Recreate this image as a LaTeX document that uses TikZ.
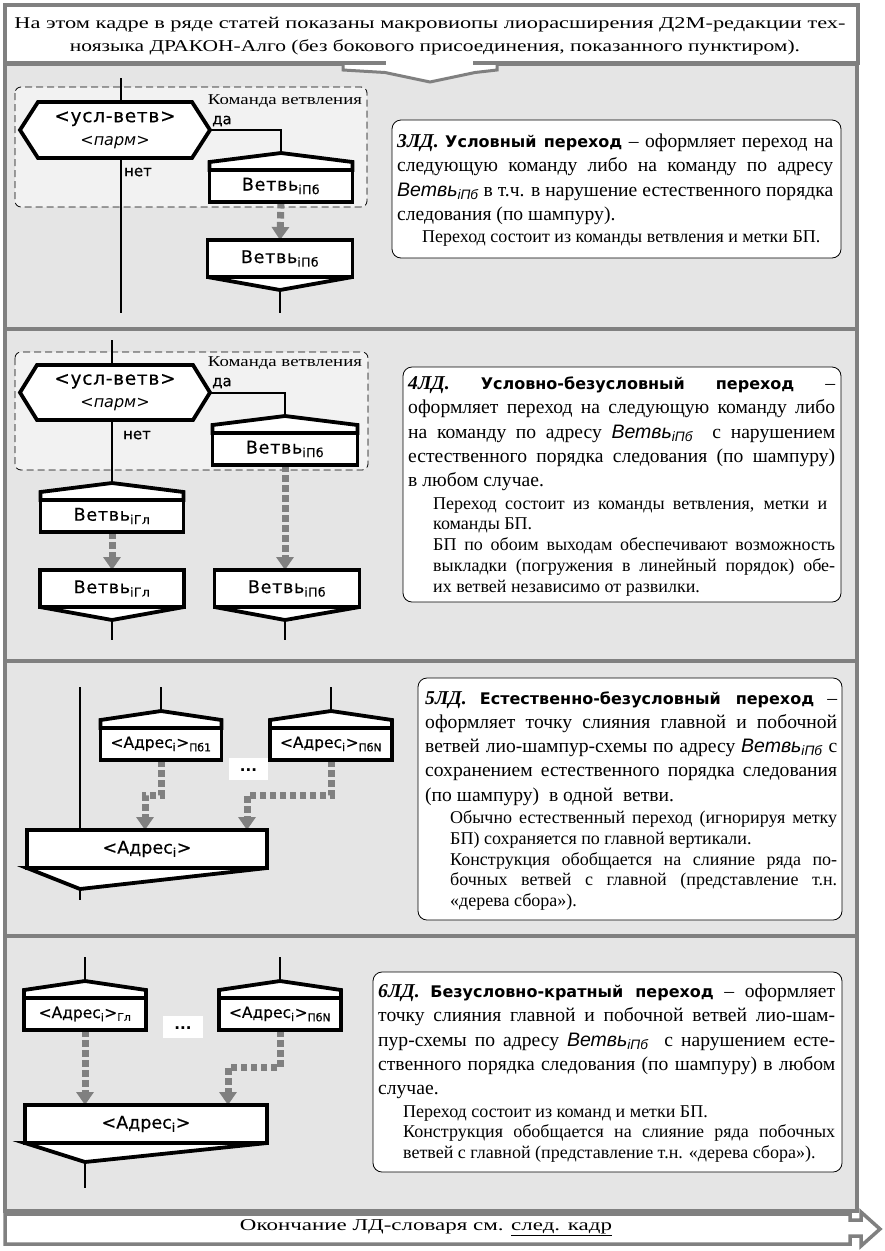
\documentclass[tikz,border=0pt]{standalone}
\usepackage{fontspec}
\usepackage{graphicx}
\setmainfont{Liberation Serif}
\newfontfamily\tnr{Liberation Serif}
\newfontfamily\dv{DejaVu Sans}
\newfontfamily\dvl[LetterSpace=4,FakeBold=0.4]{DejaVu Sans}
\newfontfamily\dvb[FakeBold=0.4]{DejaVu Sans}
\newfontfamily\ls{Liberation Sans}
\usetikzlibrary{arrows.meta,calc}
\pgfdeclarelayer{bg}
\pgfdeclarelayer{wr}
\pgfdeclarelayer{shp}
\pgfsetlayers{bg,wr,shp,main}
\newlength\ind \setlength\ind{25pt}
\newcommand\tjl[1]{\par\hbox to\hsize{#1}}
\newcommand\tll[1]{\par\hbox to\hsize{#1\hfil}}
\newcommand\tji[1]{\par\hbox to\hsize{\hskip\ind #1}}
\newcommand\tli[1]{\par\hbox to\hsize{\hskip\ind #1\hfil}}
\newcommand\vetv{{\ls\itshape\fontsize{19.5}{20}\selectfont Ветвь\textsubscript{iПб}}}
\newcommand\ttl[1]{{\dv\bfseries\fontsize{16}{20}\selectfont #1}}
\newcommand\num[1]{{\tnr\bfseries\itshape #1}}
\newcommand\lsub[1]{\textsubscript{#1}}
\newcommand\mainsz{\tnr\fontsize{19.6}{24.3}\selectfont}
\newcommand\subsz{\vskip1.5pt\tnr\fontsize{18}{20.8}\selectfont}
\newcommand\drawhex[2]{\begin{pgfonlayer}{shp}\draw[icon] (#1.west) -- ([xshift=#2]#1.north west) -- ([xshift=-#2]#1.north east) -- (#1.east) -- ([xshift=-#2]#1.south east) -- ([xshift=#2]#1.south west) -- cycle;\end{pgfonlayer}}
\newcommand\capon[1]{\coordinate (#1top) at ([yshift=17pt]#1.north);\begin{pgfonlayer}{shp}\draw[icon] (#1.north west) -- ([yshift=8pt]#1.north west) -- (#1top) -- ([yshift=8pt]#1.north east) -- (#1.north east) -- cycle;\end{pgfonlayer}}
\newcommand\chev[2]{\begin{pgfonlayer}{shp}\draw[icon] (#1.south west) -- (#2) -- (#1.south east) -- cycle;\end{pgfonlayer}}
\begin{document}
\begin{tikzpicture}[x=1pt,y=-1pt,
  pan/.style={draw=gray,line width=3.5pt,fill=gray!20},
  wbox/.style={draw=gray,line width=3.5pt,fill=white},
  grp/.style={draw=black,line width=0.8pt,dash pattern=on 7pt off 4pt,rounded corners=6pt,fill=gray!10},
  icon/.style={draw=black,line width=3.8pt,fill=white,line join=miter},
  body/.style={icon,rectangle,inner sep=0pt,outer sep=0pt,font=\dvl\fontsize{17.5}{20}\selectfont},
  hexn/.style={inner sep=0pt,outer sep=0pt,minimum width=190pt,align=center,font=\dvl\fontsize{18.5}{23}\selectfont},
  wire/.style={draw=black,line width=2pt},
  garrow/.style={draw=gray,line width=7pt,dash pattern=on 6.5pt off 3.5pt,-{Triangle[width=17pt,length=13pt]}},
  txtbox/.style={draw=black,line width=0.8pt,fill=white,rounded corners=9pt},
  lab/.style={inner sep=0pt,font=\dvb\fontsize{15}{18}\selectfont},
  kv/.style={inner sep=0pt,font=\tnr\fontsize{15}{18}\selectfont},
  para/.style={inner sep=0pt,anchor=base west},
  adr/.style={font=\dvb\fontsize{15.5}{18}\selectfont},
  dotsbox/.style={fill=white,inner sep=0pt,minimum height=22pt}
]
\useasboundingbox (0,0) rectangle (885,1251);
\begin{pgfonlayer}{bg}
\draw[pan] (5,64) rectangle (857,329);
\draw[pan] (5,329) rectangle (857,661);
\draw[pan] (5,661) rectangle (857,936);
\draw[pan] (5,936) rectangle (857,1211);
\draw[wbox,line width=3pt] (343,63) -- (343,70) -- (385,72.5) -- (430,82) -- (475,72.5) -- (497,70) -- (497,63);
\draw[wbox] (5,5) rectangle (858,63);
\fill[white] (386,60.5) rectangle (473,66);
\draw[wbox] (5,1214) -- (850,1214) -- (850,1220) -- (861,1220) -- (861,1212) -- (880,1229) -- (861,1246) -- (861,1236) -- (850,1236) -- (850,1244) -- (5,1244) -- cycle;
\draw[grp] (15,87) rectangle (367,207);
\draw[grp] (15,352) rectangle (368,470);
\draw[txtbox] (392,120) rectangle (841,258);
\draw[txtbox] (403,367) rectangle (841,602);
\draw[txtbox] (418,678) rectangle (842,920);
\draw[txtbox] (373,972) rectangle (842,1172);
\end{pgfonlayer}

% header and footer
\node[inner sep=0pt,font=\tnr\fontsize{16.5}{20}\selectfont] (hd1) at (430,25) {\resizebox{831pt}{\height}{На этом кадре в ряде статей показаны макровиопы лиорасширения Д2М-редакции тех-}};
\node[inner sep=0pt,font=\tnr\fontsize{16.5}{20}\selectfont] (hd2) at (435,47) {\resizebox{730pt}{\height}{ноязыка ДРАКОН-Алго (без бокового присоединения, показанного пунктиром).}};
\node[inner sep=0pt,font=\tnr\fontsize{16.5}{20}\selectfont] (ft) at (426,1228) {\resizebox{372pt}{\height}{Окончание ЛД-словаря см. \underline{след. кадр}}};

% ---------- panel 1
\node[hexn,minimum height=56pt] (h1) at (115,130) {<усл-ветв>\\{\dv\itshape\fontsize{16}{23}\selectfont <парм>}};
\drawhex{h1}{18pt}
\node[body,minimum width=143pt,minimum height=32pt] (b1) at (281,186) {Ветвь\lsub{iПб}};
\capon{b1}
\node[body,minimum width=145pt,minimum height=37pt] (e1) at (280,258.5) {Ветвь\lsub{iПб}};
\coordinate (e1p) at (280,290);
\chev{e1}{e1p}
\coordinate (m1a) at (121,78);
\coordinate (m1b) at (121,313);
\coordinate (e1o) at (280,313);
\node[lab] (da1) at (222,121) {да};
\node[lab] (net1) at (138,172) {нет};
\node[kv] (kv1) at (285,101) {\resizebox{154pt}{\height}{Команда ветвления}};
\begin{pgfonlayer}{wr}
\draw[wire] (m1a) -- (m1b);
\draw[wire] (h1.east) -| (b1top);
\draw[wire] (e1p) -- (e1o);
\draw[garrow] (b1.south) -- (e1.north);
\end{pgfonlayer}

% ---------- panel 2
\node[hexn,minimum height=55pt] (h2) at (115,392.5) {<усл-ветв>\\{\dv\itshape\fontsize{16}{23}\selectfont <парм>}};
\drawhex{h2}{17pt}
\node[body,minimum width=145pt,minimum height=32pt] (b2) at (285,449) {Ветвь\lsub{iПб}};
\capon{b2}
\node[body,minimum width=143pt,minimum height=32pt] (g2) at (112,516) {Ветвь\lsub{iГл}};
\capon{g2}
\node[body,minimum width=144pt,minimum height=37pt] (e2a) at (112,588.5) {Ветвь\lsub{iГл}};
\node[body,minimum width=145pt,minimum height=37pt] (e2b) at (287,588.5) {Ветвь\lsub{iПб}};
\coordinate (e2ap) at (112,620);
\coordinate (e2bp) at (285,620);
\chev{e2a}{e2ap}
\chev{e2b}{e2bp}
\coordinate (m2a) at (112,340);
\coordinate (e2ao) at (112,640);
\coordinate (e2bo) at (285,640);
\node[lab] (da2) at (222,383) {да};
\node[lab] (net2) at (137,435) {нет};
\node[kv] (kv2) at (285,363) {\resizebox{154pt}{\height}{Команда ветвления}};
\begin{pgfonlayer}{wr}
\draw[wire] (m2a) -- (g2top);
\draw[wire] (h2.east) -| (b2top);
\draw[wire] (e2ap) -- (e2ao);
\draw[wire] (e2bp) -- (e2bo);
\draw[garrow] (g2.south) -- (e2a.north);
\draw[garrow] (b2.south) -- (b2.south |- e2b.north);
\end{pgfonlayer}

% ---------- panel 3
\node[body,adr,minimum width=121pt,minimum height=32pt] (p31) at (161,744) {<Адрес\lsub{i}>\lsub{Пб1}};
\capon{p31}
\node[body,adr,minimum width=122pt,minimum height=32pt] (p3n) at (331,744) {<Адрес\lsub{i}>\lsub{ПбN}};
\capon{p3n}
\node[dotsbox,minimum width=39pt] (d3) at (248.5,769) {\raisebox{-5pt}{\dv\bfseries\fontsize{15}{15}\selectfont ...}};
\node[body,minimum width=240pt,minimum height=38pt,font=\dvb\fontsize{17.5}{20}\selectfont] (a3) at (147,849) {<Адрес\lsub{i}>};
\coordinate (a3p) at (80,889);
\chev{a3}{a3p}
\coordinate (m3a) at (80,687);
\coordinate (a3o) at (80,900);
\coordinate (p31i) at (161,687);
\coordinate (p3ni) at (331,687);
\coordinate (a3in1) at (145,830);
\coordinate (a3in2) at (247,830);
\begin{pgfonlayer}{wr}
\draw[wire] (m3a) -- (m3a |- a3.north);
\draw[wire] (a3p) -- (a3o);
\draw[wire] (p31i) -- (p31top);
\draw[wire] (p3ni) -- (p3ntop);
\draw[garrow] (p31.south) -- ++(0,35) -| (a3in1);
\draw[garrow] (p3n.south) -- ++(0,35) -| (a3in2);
\end{pgfonlayer}

% ---------- panel 4
\node[body,adr,minimum width=122pt,minimum height=32pt] (p4g) at (85,1014) {<Адрес\lsub{i}>\lsub{Гл}};
\capon{p4g}
\node[body,adr,minimum width=122pt,minimum height=32pt] (p4n) at (280,1014) {<Адрес\lsub{i}>\lsub{ПбN}};
\capon{p4n}
\node[dotsbox,minimum width=40pt] (d4) at (183,1027) {\raisebox{-5pt}{\dv\bfseries\fontsize{15}{15}\selectfont ...}};
\node[body,minimum width=242pt,minimum height=38pt,font=\dvb\fontsize{17.5}{20}\selectfont] (a4) at (146,1124) {<Адрес\lsub{i}>};
\coordinate (a4p) at (85,1162);
\chev{a4}{a4p}
\coordinate (a4o) at (85,1188);
\coordinate (p4gi) at (85,957);
\coordinate (p4ni) at (280,957);
\coordinate (a4in2) at (228,1105);
\begin{pgfonlayer}{wr}
\draw[wire] (a4p) -- (a4o);
\draw[wire] (p4gi) -- (p4gtop);
\draw[wire] (p4ni) -- (p4ntop);
\draw[garrow] (p4g.south) -- (p4g.south |- a4.north);
\draw[garrow] (p4n.south) -- ++(0,37) -| (a4in2);
\end{pgfonlayer}

% ---------- texts
\node[para] (t1) at (397,147.5) {\vtop{\hsize=436pt\mainsz
\tjl{\num{3ЛД.} \ttl{Условный переход} – оформляет переход на}
\tjl{следующую команду либо на команду по адресу}
\tjl{\vetv\ в т.ч. в нарушение естественного порядка}
\tll{следования (по шампуру).}
\subsz
\tli{Переход состоит из команды ветвления и метки БП.}}};

\node[para] (t2) at (408,389.5) {\vtop{\hsize=427pt\mainsz
\tjl{\num{4ЛД.} \ttl{Условно-безусловный} \ttl{переход} –}
\tjl{оформляет переход на следующую команду либо}
\tjl{на команду по адресу \vetv\ \ с нарушением}
\tjl{естественного порядка следования (по шампуру)}
\tll{в любом случае.}
\subsz
\tji{Переход состоит из команды ветвления, метки и\hskip8pt}
\tli{команды БП.}
\tji{БП по обоим выходам обеспечивают возможность}
\tji{выкладки (погружения в линейный порядок) обе-}
\tli{их ветвей независимо от развилки.}}};

\node[para] (t3) at (425,704) {\vtop{\hsize=412pt\mainsz
\tjl{\num{5ЛД.} \ttl{Естественно-безусловный переход} –}
\tjl{оформляет точку слияния главной и побочной}
\tjl{ветвей лио-шампур-схемы по адресу \vetv\ с}
\tjl{сохранением естественного порядка следования}
\tll{(по шампуру) \ в одной \ ветви.}
\subsz
\tji{Обычно естественный переход (игнорируя метку}
\tli{БП) сохраняется по главной вертикали.}
\tji{Конструкция обобщается на слияние ряда по-}
\tji{бочных ветвей с главной (представление т.н.}
\tli{«дерева сбора»).}}};

\node[para] (t4) at (378,997.5) {\vtop{\hsize=457pt\mainsz
\tjl{\num{6ЛД.} \ttl{Безусловно-кратный переход} – оформляет}
\tjl{точку слияния главной и побочной ветвей лио-шам-}
\tjl{пур-схемы по адресу \vetv\ \ с нарушением есте-}
\tjl{ственного порядка следования (по шампуру) в любом}
\tll{случае.}
\subsz
\tli{Переход состоит из команд и метки БП.}
\tji{Конструкция обобщается на слияние ряда побочных}
\tli{ветвей с главной (представление т.н. «дерева сбора»).}}};
\end{tikzpicture}
\end{document}
